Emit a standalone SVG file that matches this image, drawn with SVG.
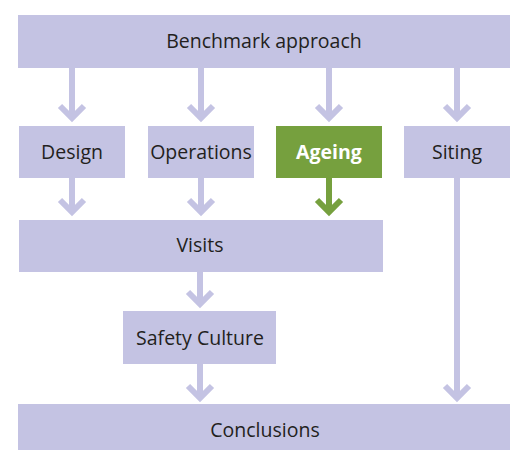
<svg xmlns="http://www.w3.org/2000/svg" width="519" height="450" viewBox="0 0 519 450">
  <style>
    .box { fill: #c4c3e3; }
    .hl { fill: #76a03e; }
    .lbl { font-family: "Open Sans", "Noto Sans", "Liberation Sans", sans-serif; font-size: 19.5px; fill: #231f20; text-anchor: middle; }
    .hlbl { font-family: "Open Sans", "Noto Sans", "Liberation Sans", sans-serif; font-size: 19.5px; font-weight: bold; fill: #ffffff; text-anchor: middle; }
    .c { fill: none; stroke: #c4c3e3; stroke-width: 6; marker-end: url(#chev); }
    .cg { fill: none; stroke: #76a03e; stroke-width: 6; marker-end: url(#chevg); }
  </style>
  <defs>
    <marker id="chev" markerUnits="userSpaceOnUse" orient="auto" refX="0" refY="0" markerWidth="30" markerHeight="30" overflow="visible">
      <path d="M -12 -12 L 0 0 L -12 12" fill="none" stroke="#c4c3e3" stroke-width="6" stroke-linejoin="miter"/>
    </marker>
    <marker id="chevg" markerUnits="userSpaceOnUse" orient="auto" refX="0" refY="0" markerWidth="30" markerHeight="30" overflow="visible">
      <path d="M -12 -12 L 0 0 L -12 12" fill="none" stroke="#76a03e" stroke-width="6" stroke-linejoin="miter"/>
    </marker>
  </defs>
  <rect width="519" height="450" fill="#ffffff"/>
  <g id="connectors">
    <line class="c" x1="72" y1="68" x2="72" y2="118"/>
    <line class="c" x1="201" y1="68" x2="201" y2="118"/>
    <line class="c" x1="329" y1="68" x2="329" y2="118"/>
    <line class="c" x1="457" y1="68" x2="457" y2="118"/>
    <line class="c" x1="72" y1="178" x2="72" y2="212"/>
    <line class="c" x1="201" y1="178" x2="201" y2="212"/>
    <line class="cg" x1="329" y1="178" x2="329" y2="212"/>
    <line class="c" x1="200" y1="272" x2="200" y2="304"/>
    <line class="c" x1="200" y1="364" x2="200" y2="398"/>
    <line class="c" x1="457" y1="178" x2="457" y2="398"/>
  </g>
  <g id="benchmark">
    <rect class="box" x="18" y="15" width="492" height="53"/>
    <text class="lbl" x="264" y="48">Benchmark approach</text>
  </g>
  <g id="design">
    <rect class="box" x="19" y="126" width="106" height="52"/>
    <text class="lbl" x="72" y="159">Design</text>
  </g>
  <g id="operations">
    <rect class="box" x="148" y="126" width="106" height="52"/>
    <text class="lbl" x="201" y="159">Operations</text>
  </g>
  <g id="ageing">
    <rect class="hl" x="276" y="126" width="106" height="52"/>
    <text class="hlbl" x="329" y="159">Ageing</text>
  </g>
  <g id="siting">
    <rect class="box" x="404" y="126" width="106" height="52"/>
    <text class="lbl" x="457" y="159">Siting</text>
  </g>
  <g id="visits">
    <rect class="box" x="19" y="220" width="364" height="52"/>
    <text class="lbl" x="200" y="252">Visits</text>
  </g>
  <g id="safety-culture">
    <rect class="box" x="123" y="311" width="153" height="53"/>
    <text class="lbl" x="200" y="345">Safety Culture</text>
  </g>
  <g id="conclusions">
    <rect class="box" x="18" y="404" width="492" height="52"/>
    <text class="lbl" x="265" y="437">Conclusions</text>
  </g>
</svg>
